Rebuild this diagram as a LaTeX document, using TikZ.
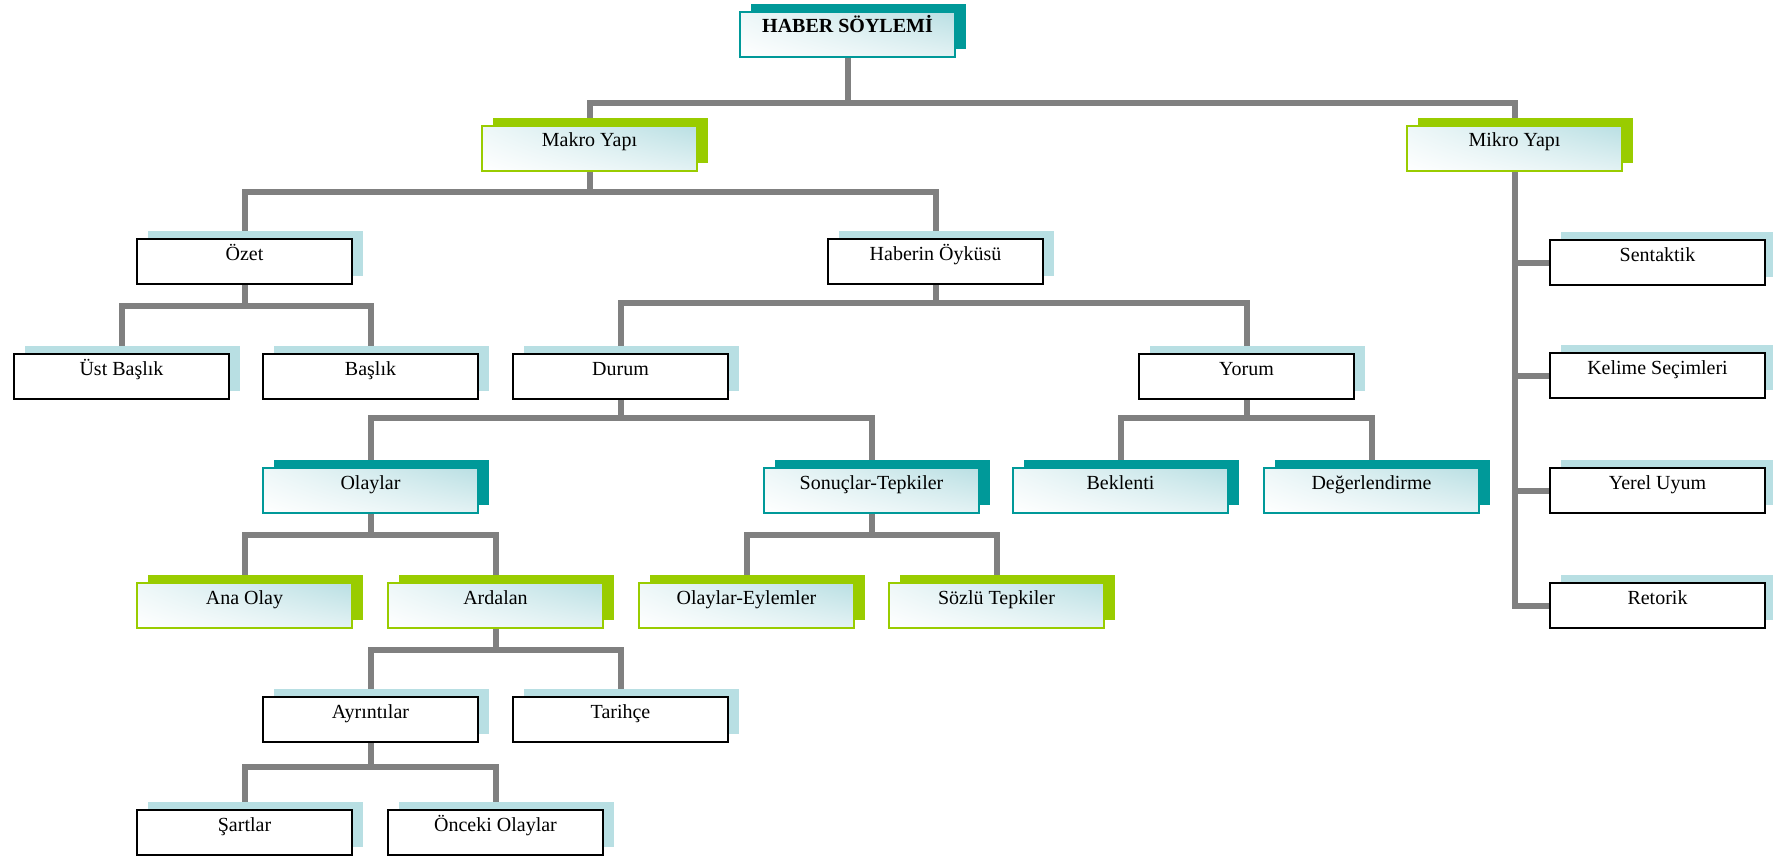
\documentclass[tikz,border=0pt]{standalone}
\usepackage{fontspec}
\setmainfont{Liberation Serif}
\usetikzlibrary{shadows,backgrounds,shadings}
\definecolor{tealc}{HTML}{009999}
\definecolor{greenc}{HTML}{99CC00}
\definecolor{shblue}{HTML}{B8DFE3}
\definecolor{gradc}{HTML}{B9DFE3}
\definecolor{linec}{HTML}{808080}
\tikzset{
  basebox/.style={rectangle, minimum width=215pt, minimum height=45pt, inner sep=0pt,
    text height=21pt, text depth=24pt, font=\fontsize{20}{24}\selectfont},
  gradfill/.style={upper right=gradc, upper left=gradc!25, lower left=white, lower right=gradc!40},
  tealbox/.style={basebox, gradfill, draw=tealc, line width=2pt,
    general shadow={fill=tealc, shadow xshift=11pt, shadow yshift=8pt}},
  greenbox/.style={basebox, gradfill, draw=greenc, line width=2.5pt,
    general shadow={fill=greenc, shadow xshift=11pt, shadow yshift=8pt}},
  plainbox/.style={basebox, fill=white, draw=black, line width=2pt,
    general shadow={fill=shblue, shadow xshift=11pt, shadow yshift=8pt}},
  conn/.style={draw=linec, line width=6pt},
}
\newcommand\treebranch[3]{\draw[conn] (#1.south) -- (#1.south |- #2) -| (#3.north);}
\begin{document}
\begin{tikzpicture}[x=1pt, y=-1pt]
\useasboundingbox (0,0) rectangle (1773,856);
% levels
\coordinate (L1) at (0,103);
\coordinate (L2) at (0,192);
\coordinate (L3a) at (0,306);
\coordinate (L3b) at (0,303);
\coordinate (L4) at (0,418);
\coordinate (L5) at (0,535);
\coordinate (L6) at (0,650);
\coordinate (L7) at (0,767);
% nodes
\node[tealbox, font=\fontsize{20}{24}\selectfont\bfseries] (haber) at (847.5,34.5) {HABER SÖYLEMİ};
\node[greenbox] (makro) at (589.5,148.5) {Makro Yapı};
\node[greenbox] (mikro) at (1514.5,148.5) {Mikro Yapı};
\node[plainbox] (ozet) at (244.5,261.5) {Özet};
\node[plainbox] (hab) at (935.5,261.5) {Haberin Öyküsü};
\node[plainbox] (ust) at (121.5,376.5) {Üst Başlık};
\node[plainbox] (baslik) at (370.5,376.5) {Başlık};
\node[plainbox] (durum) at (620.5,376.5) {Durum};
\node[plainbox] (yorum) at (1246.5,376.5) {Yorum};
\node[tealbox] (olaylar) at (370.5,490.5) {Olaylar};
\node[tealbox] (sonuc) at (871.5,490.5) {Sonuçlar-Tepkiler};
\node[tealbox] (beklenti) at (1120.5,490.5) {Beklenti};
\node[tealbox] (deger) at (1371.5,490.5) {Değerlendirme};
\node[greenbox] (anaolay) at (244.5,605.5) {Ana Olay};
\node[greenbox] (ardalan) at (495.5,605.5) {Ardalan};
\node[greenbox] (olev) at (746.5,605.5) {Olaylar-Eylemler};
\node[greenbox] (sozlu) at (996.5,605.5) {Sözlü Tepkiler};
\node[plainbox] (ayrinti) at (370.5,719.5) {Ayrıntılar};
\node[plainbox] (tarihce) at (620.5,719.5) {Tarihçe};
\node[plainbox] (sartlar) at (244.5,832.5) {Şartlar};
\node[plainbox] (onceki) at (495.5,832.5) {Önceki Olaylar};
\node[plainbox] (sentaktik) at (1657.5,262.5) {Sentaktik};
\node[plainbox] (kelime) at (1657.5,375.5) {Kelime Seçimleri};
\node[plainbox] (yerel) at (1657.5,490.5) {Yerel Uyum};
\node[plainbox] (retorik) at (1657.5,605.5) {Retorik};
% connectors
\begin{scope}[on background layer]
\treebranch{haber}{L1}{makro}
\treebranch{haber}{L1}{mikro}
\treebranch{makro}{L2}{ozet}
\treebranch{makro}{L2}{hab}
\treebranch{ozet}{L3a}{ust}
\treebranch{ozet}{L3a}{baslik}
\treebranch{hab}{L3b}{durum}
\treebranch{hab}{L3b}{yorum}
\treebranch{durum}{L4}{olaylar}
\treebranch{durum}{L4}{sonuc}
\treebranch{yorum}{L4}{beklenti}
\treebranch{yorum}{L4}{deger}
\treebranch{olaylar}{L5}{anaolay}
\treebranch{olaylar}{L5}{ardalan}
\treebranch{sonuc}{L5}{olev}
\treebranch{sonuc}{L5}{sozlu}
\treebranch{ardalan}{L6}{ayrinti}
\treebranch{ardalan}{L6}{tarihce}
\treebranch{ayrinti}{L7}{sartlar}
\treebranch{ayrinti}{L7}{onceki}
\draw[conn] (mikro.south) |- (retorik.west);
\draw[conn] (mikro.south |- sentaktik.west) -- (sentaktik.west);
\draw[conn] (mikro.south |- kelime.west) -- (kelime.west);
\draw[conn] (mikro.south |- yerel.west) -- (yerel.west);
\end{scope}
\end{tikzpicture}
\end{document}
